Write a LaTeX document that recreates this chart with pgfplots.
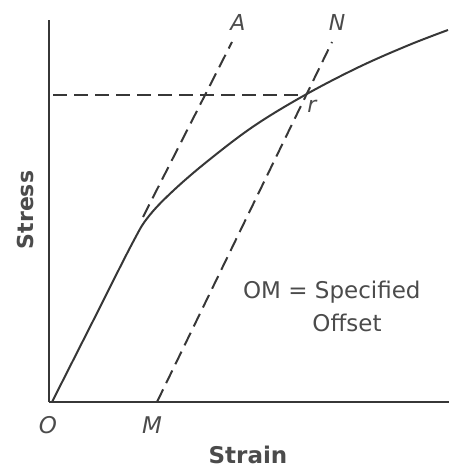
\documentclass[border=0pt]{standalone}
\usepackage{pgfplots}
\pgfplotsset{compat=1.18}
\usepackage{fontspec}
\setmainfont{DejaVu Sans}
\definecolor{ink}{RGB}{55,55,55}
\definecolor{txt}{RGB}{75,75,75}
\begin{document}
\begin{tikzpicture}
\path[use as bounding box] (-24.5pt,-34.5pt) rectangle (200pt,201pt);
\begin{axis}[
  at={(0,0)}, anchor=origin,
  x=0.5pt, y=0.5pt,
  xmin=0, xmax=400, ymin=0, ymax=382,
  axis x line=bottom, axis y line=left,
  axis line style={-, ink, line width=0.8pt},
  xtick=\empty, ytick=\empty,
  clip=false,
  every axis plot/.append style={ink, line width=1pt},
]
% stress-strain curve
\addplot[smooth, tension=0.6] coordinates {
(3,0) (44,81) (84,160) (100,186) (125,212) (160,242) (205,276)
(256,307) (310,335) (360,357) (399,372)};
% line parallel to elastic part
\addplot[dash pattern=on 7pt off 3.5pt] coordinates {(94,185) (183,360)};
% offset line M-N
\addplot[dash pattern=on 7pt off 3.5pt] coordinates {(108,0) (283,360)};
% horizontal yield line
\addplot[dash pattern=on 7pt off 3.5pt] coordinates {(4,307) (256,307)};
\node[txt, font=\itshape\fontsize{11}{13}\selectfont] at (axis cs:189,380) {A};
\node[txt, font=\itshape\fontsize{11}{13}\selectfont] at (axis cs:288,380) {N};
\node[txt, font=\itshape\fontsize{11}{13}\selectfont] at (axis cs:263,296) {r};
\node[txt, font=\itshape\fontsize{11.5}{13}\selectfont] at (axis cs:-1,-23) {O};
\node[txt, font=\itshape\fontsize{11.5}{13}\selectfont] at (axis cs:103,-23) {M};
\node[txt, font=\bfseries\fontsize{11.5}{13}\selectfont] at (axis cs:199,-53) {Strain};
\node[txt, font=\bfseries\fontsize{11}{13}\selectfont, rotate=90] at (axis cs:-24,192) {Stress};
\node[txt, font=\fontsize{11.5}{13}\selectfont, anchor=west] at (axis cs:187,110) {OM = Specified};
\node[txt, font=\fontsize{11.5}{13}\selectfont] at (axis cs:298,79) {Offset};
\end{axis}
\end{tikzpicture}
\end{document}
